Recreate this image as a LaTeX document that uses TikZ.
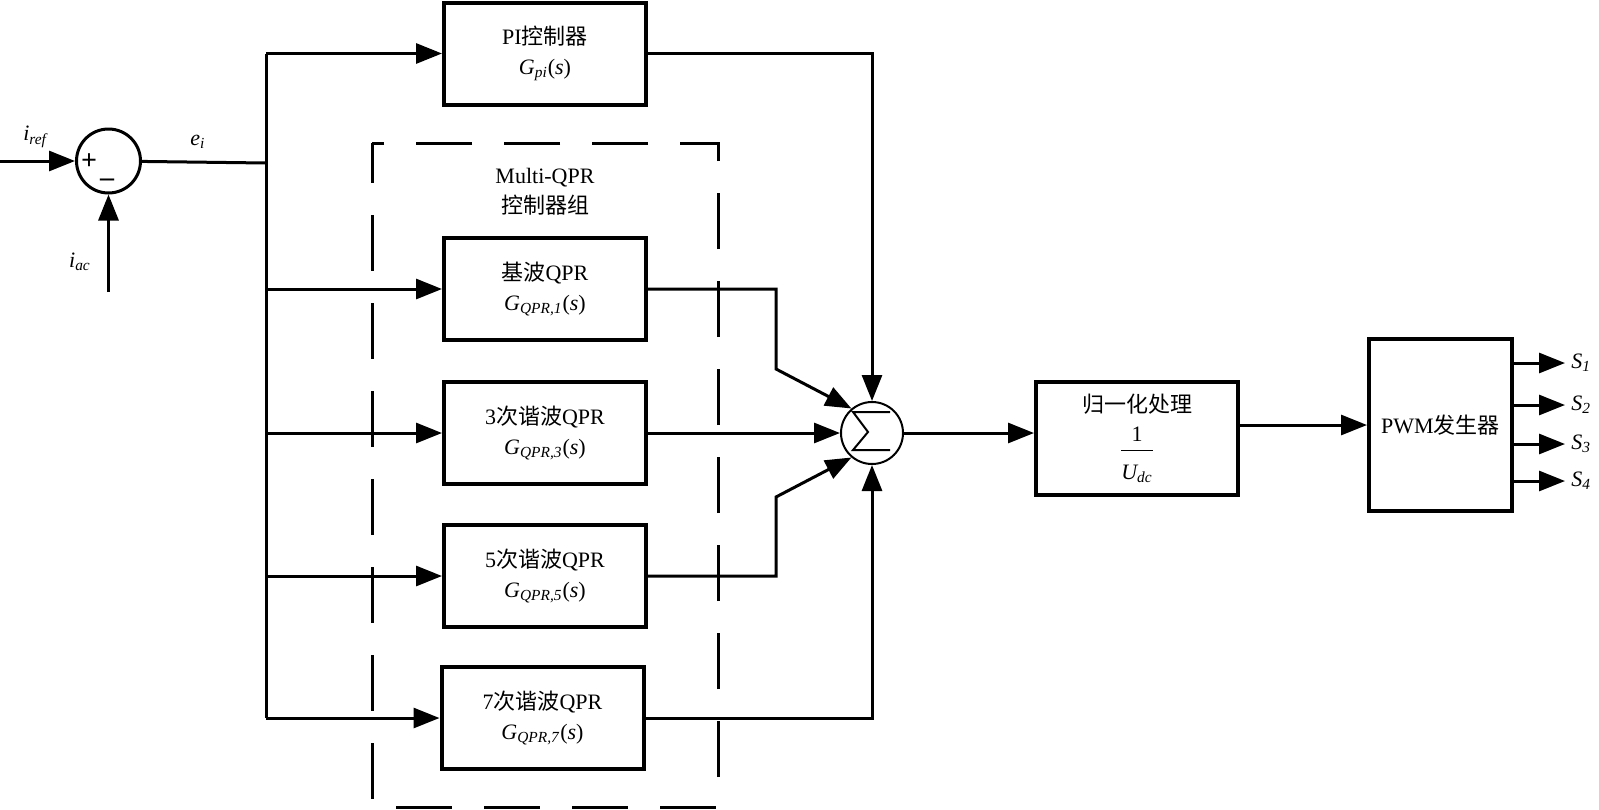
\documentclass[tikz,border=0pt]{standalone}
\usepackage{fontspec}
\setmainfont{Liberation Serif}
\newfontfamily\cjk{Noto Sans CJK SC}
\usetikzlibrary{arrows.meta,positioning}
\newcommand{\zh}[1]{{\cjk #1}}
\newcommand{\isub}[1]{\textsubscript{\textit{#1}}}
\tikzset{
	block/.style={draw,line width=2pt,minimum width=101pt,minimum height=51pt,align=center,inner sep=0pt},
	sig/.style={line width=1.5pt,-{Triangle[length=13pt,width=10pt]}},
	wire/.style={line width=1.5pt},
	grp/.style={line width=1.5pt,dash pattern=on 28pt off 16pt,dash phase=8pt},
	sgn/.style={inner sep=0pt,font=\fontsize{14}{14}\selectfont\bfseries}
}
\begin{document}
\begin{tikzpicture}[x=0.5pt,y=-0.5pt,font=\fontsize{11}{15}\selectfont]
		\useasboundingbox (0,0) rectangle (1599,809);
		\node[circle,draw,line width=1.5pt,minimum size=32pt,inner sep=0pt] (sum1) at (108.5,161) {};
		\node[sgn] (plus) at (89,162) {+};
		\node[sgn] (minus) at (107,183) {--};
		\coordinate (in) at (0,161);
		\coordinate (fb) at (108.5,292);
		\draw[sig] (in) -- (sum1);
		\draw[sig] (fb) -- (sum1);
		\node (iref) at (36,137) {\textit{i}\isub{ref}};
		\node (iac) at (80,262) {\textit{i}\isub{ac}};
		\node (ei) at (198,142) {\textit{e}\isub{i}};
		\coordinate (ej) at (266,163);
		\coordinate (bt) at (266,53.5);
		\coordinate (bb) at (266,718);
		\draw[wire] (sum1) -- (ej);
		\draw[wire] (bt) -- (bb);
		\draw[grp] (372,143) rectangle (718,807);
		\node[align=center] (grplabel) at (545,192) {Multi-QPR\\\zh{控制器组}};
		\node[block] (pi) at (545,53.5) {PI\zh{控制器}\\\textit{G}\isub{pi}(\textit{s})};
		\node[block] (q1) at (545,289) {\zh{基波}QPR\\\textit{G}\isub{QPR,1}(\textit{s})};
		\node[block] (q3) at (545,433) {3\zh{次谐波}QPR\\\textit{G}\isub{QPR,3}(\textit{s})};
		\node[block] (q5) at (545,576) {5\zh{次谐波}QPR\\\textit{G}\isub{QPR,5}(\textit{s})};
		\node[block] (q7) at (542.5,718) {7\zh{次谐波}QPR\\\textit{G}\isub{QPR,7}(\textit{s})};
		\draw[sig] (bt) -- (pi);
		\foreach \q in {q1,q3,q5,q7}
			\draw[sig] (bt |- \q) -- (\q);
		\node[circle,draw,line width=1pt,minimum size=31pt,inner sep=0pt] (sum) at (872,433) {};
		\draw[line width=1pt,shift={(sum.center)}] (18,-21) -- (-19,-21) -- (-4,-1) -- (-19,17) -- (18,17);
		\coordinate (k1) at (776,369);
		\coordinate (k5) at (776,497);
		\draw[sig] (pi.east) -| (sum.north);
		\draw[sig] (q1.east) -| (k1) -- (sum.130);
		\draw[sig] (q3.east) -- (sum.west);
		\draw[sig] (q5.east) -| (k5) -- (sum.230);
		\draw[sig] (q7.east) -| (sum.south);
		\node[block,minimum height=56.5pt] (norm) at (1137,438.5) {\zh{归一化处理}\\[5pt]$\displaystyle\frac{\textrm{1}\rule[-3pt]{0pt}{3pt}}{\rule{0pt}{13pt}\textit{U}\textsubscript{\textit{dc}}}$};
		\node[block,minimum width=71.5pt,minimum height=86pt] (pwm) at (1440.5,425) {PWM\zh{发生器}};
		\draw[sig] (sum.east) -- (sum.east -| norm.west);
		\draw[sig] (norm.east |- pwm.west) -- (pwm.west);
		\foreach \k/\y in {1/363,2/405,3/444,4/481}{
			\coordinate (s\k) at (1565,\y);
			\draw[sig] (s\k -| pwm.east) -- (s\k);
			\node[anchor=west,inner sep=0pt] (lab\k) at (1571,\y) {\textit{S}\isub{\k}};
		}
\end{tikzpicture}
\end{document}
